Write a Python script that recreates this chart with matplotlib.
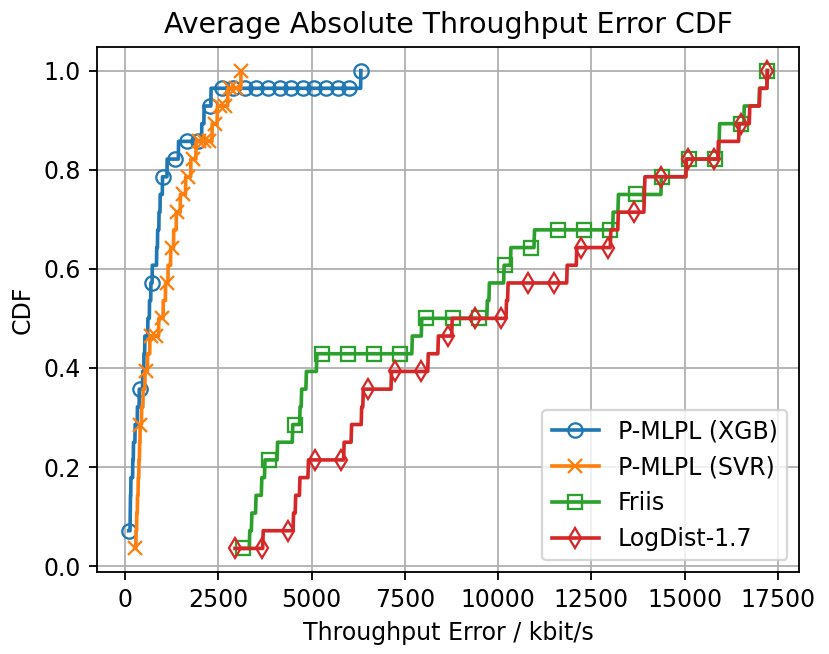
import numpy as np
import matplotlib
matplotlib.use("Agg")
import matplotlib.pyplot as plt

# Per-sample throughput errors (kbit/s), 28 samples per method
xgb = [95, 95, 135, 142, 152, 205, 225, 268, 330, 380, 470, 500, 530, 610,
       650, 690, 725, 845, 870, 905, 940, 1000, 1125, 1429, 2053, 2116, 2304, 6321]
svr = [268, 290, 310, 330, 350, 370, 385, 400, 440, 480, 530, 600, 660, 900,
       1020, 1080, 1150, 1220, 1300, 1370, 1480, 1620, 1760, 1900, 2330, 2470, 2750, 3107]
friis = [3160, 3330, 3393, 3509, 3661, 3750, 4081, 4491, 4688, 4732, 4848, 5134, 7697, 7947,
         9706, 9760, 10152, 10331, 10964, 13081, 13215, 14375, 15027, 15920, 15930, 16590, 17009, 17220]
logdist = [2947, 3700, 4509, 4572, 4688, 4911, 5860, 6072, 6340, 6384, 7143, 8125, 8393, 8768,
           10224, 10268, 11848, 12098, 13018, 13215, 13911, 13925, 15050, 15893, 16450, 16742, 17009, 17220]

labels = ["P-MLPL (XGB)", "P-MLPL (SVR)", "Friis", "LogDist-1.7"]
markers = ["o", "x", "s", "d"]
series = [xgb, svr, friis, logdist]

plt.rcParams["font.size"] = 10.4
plt.rcParams["lines.linewidth"] = 1.6
plt.rcParams["lines.markersize"] = 6.3

W, H, DPI = 830, 654, 164
fig = plt.figure(figsize=(W / DPI, H / DPI), dpi=DPI)
ax = fig.add_axes([96.7 / W, (H - 572.3) / H, 702.6 / W, (572.3 - 46.7) / H])

for data, lab, mk in zip(series, labels, markers):
    s = np.sort(np.asarray(data, dtype=float))
    grid = np.linspace(s.min(), s.max(), 1001)
    cdf = np.searchsorted(s, grid, side="right") / len(s)
    ax.plot(grid, cdf, marker=mk, fillstyle="none", markevery=50, label=lab)

ax.set_title("Average Absolute Throughput Error CDF")
ax.set_xlabel("Throughput Error / kbit/s")
ax.set_ylabel("CDF")
ax.grid(True)
ax.legend(loc="lower right")

fig.savefig("out.png", dpi=DPI)
